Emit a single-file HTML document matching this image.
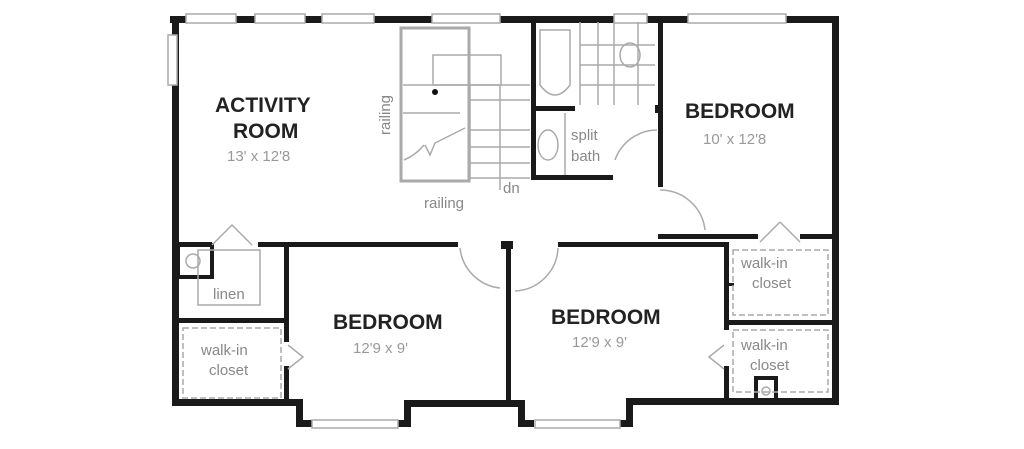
<!DOCTYPE html>
<html><head><style>
body{margin:0;background:#fff;width:1024px;height:449px;overflow:hidden}
svg{display:block}
text{font-family:"Liberation Sans",sans-serif}
.b{font-weight:bold;font-size:21px;fill:#222}
.d{font-size:15px;fill:#999}
.s{font-size:15px;fill:#888}
</style></head><body>
<svg width="1024" height="449" viewBox="0 0 1024 449">
<g fill="#1a1a1a">
<!-- top wall -->
<rect x="170" y="16" width="668" height="7"/>
<!-- left wall -->
<rect x="172" y="16" width="7" height="390"/>
<!-- right wall -->
<rect x="832" y="16" width="7" height="386"/>
<!-- bottom walls -->
<rect x="172" y="399" width="130" height="7"/>
<rect x="296" y="399" width="7" height="28"/>
<rect x="296" y="420" width="16" height="7"/>
<rect x="398" y="420" width="12" height="7"/>
<rect x="404" y="402" width="7" height="25"/>
<rect x="404" y="400" width="120" height="7"/>
<rect x="518" y="400" width="7" height="27"/>
<rect x="518" y="420" width="16" height="7"/>
<rect x="620" y="420" width="12" height="7"/>
<rect x="626" y="398" width="7" height="29"/>
<rect x="626" y="398" width="213" height="7"/>
<!-- interior -->
<rect x="178" y="242" width="34" height="5"/>
<rect x="258" y="242" width="200" height="5"/>
<rect x="501" y="241" width="12" height="8"/>
<rect x="506" y="241" width="5" height="163"/>
<rect x="558" y="242" width="170" height="5"/>
<rect x="284" y="242" width="5" height="100"/>
<rect x="284" y="366" width="5" height="38"/>
<rect x="178" y="318" width="110" height="5"/>
<rect x="178" y="245" width="34" height="32" fill="none" stroke="#1a1a1a" stroke-width="4"/>
<rect x="724" y="242" width="5" height="88"/>
<rect x="724" y="366" width="5" height="36"/>
<rect x="724" y="320" width="112" height="5"/>
<rect x="658" y="234" width="100" height="5"/>
<rect x="800" y="234" width="36" height="5"/>
<rect x="658" y="22" width="5" height="165"/>
<rect x="655" y="105" width="6" height="8"/>
<rect x="531" y="22" width="5" height="158"/>
<rect x="531" y="106" width="44" height="5"/>
<rect x="531" y="175" width="82" height="5"/>
<rect x="756" y="378" width="20" height="22" fill="none" stroke="#1a1a1a" stroke-width="4"/>
<rect x="724" y="283" width="10" height="3"/>
</g>
<!-- windows -->
<g fill="#fff" stroke="#aaa" stroke-width="1.5">
<rect x="186" y="14" width="50" height="9"/>
<rect x="255" y="14" width="50" height="9"/>
<rect x="322" y="14" width="52" height="9"/>
<rect x="432" y="14" width="68" height="9"/>
<rect x="614" y="14" width="33" height="9"/>
<rect x="688" y="14" width="98" height="9"/>
<rect x="168" y="35" width="9" height="50"/>
<rect x="312" y="420" width="86" height="8"/>
<rect x="535" y="420" width="85" height="8"/>
</g>
<!-- light lines -->
<g fill="none" stroke="#aaa" stroke-width="1.5">
<rect x="401" y="28" width="68" height="153" stroke-width="3"/>
<rect x="433" y="55" width="68" height="30"/>
<path d="M403 85H530M403 113H460M470 100H530M470 130H530M470 147H530M470 163H530M470 178H530M500 85V190M470 85V180"/>
<path d="M404 160 q12 -5 20 -15 M425 145 l5 10 l5 -12 q10 -5 30 -15"/>
<path d="M460 248 a45 45 0 0 0 40 40 M558 248 a45 45 0 0 1 -43 43 M660 190 a45 45 0 0 1 45 40 M615 160 a45 45 0 0 1 42 -30"/>
<path d="M212 245 l20 -20 l20 20 M780 222 l20 20 M780 222 l-20 20 M288 345 l15 12 l-15 12 M724 345 l-15 12 l15 12"/>
<rect x="198" y="250" width="62" height="55"/>
<rect x="183" y="328" width="98" height="70" stroke-dasharray="6 3"/>
<rect x="733" y="250" width="95" height="65" stroke-dasharray="6 3"/>
<rect x="733" y="330" width="95" height="62" stroke-dasharray="6 3"/>
<path d="M540 30h30v55q-15 20 -30 0z"/>
<ellipse cx="548" cy="145" rx="10" ry="15"/>
<ellipse cx="630" cy="55" rx="10" ry="12"/>
<path d="M580 22V105M598 22V105M614 22V105M638 22V105M580 45H655M580 65H655M580 85H655M565 113V175"/>
<circle cx="193" cy="261" r="7"/>
<circle cx="766" cy="391" r="4"/>
</g>
<circle cx="435" cy="92" r="3" fill="#111"/>
<text class="b" x="215" y="112">ACTIVITY</text>
<text class="b" x="233" y="138">ROOM</text>
<text class="d" x="227" y="161">13' x 12'8</text>
<text class="b" x="685" y="118">BEDROOM</text>
<text class="d" x="703" y="144">10' x 12'8</text>
<text class="b" x="333" y="329">BEDROOM</text>
<text class="d" x="353" y="353">12'9 x 9'</text>
<text class="b" x="551" y="324">BEDROOM</text>
<text class="d" x="572" y="347">12'9 x 9'</text>
<text class="s" x="571" y="140">split</text>
<text class="s" x="571" y="161">bath</text>
<text class="s" x="503" y="193">dn</text>
<text class="s" x="424" y="208">railing</text>
<text class="s" transform="translate(390 135) rotate(-90)">railing</text>
<text class="s" x="213" y="299">linen</text>
<text class="s" x="201" y="355">walk-in</text>
<text class="s" x="209" y="375">closet</text>
<text class="s" x="741" y="268">walk-in</text>
<text class="s" x="752" y="288">closet</text>
<text class="s" x="741" y="350">walk-in</text>
<text class="s" x="750" y="370">closet</text>
</svg>
</body></html>
